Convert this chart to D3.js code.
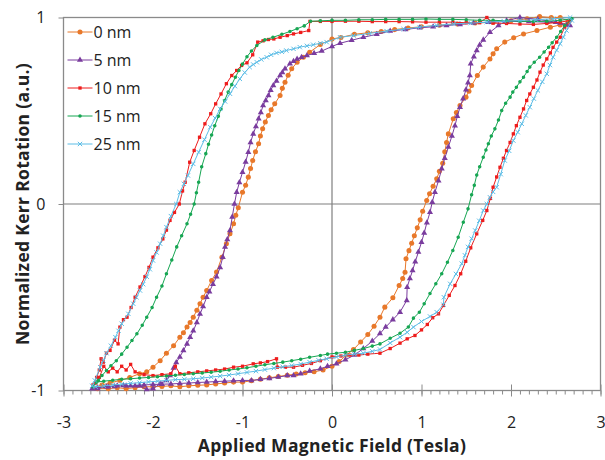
<!DOCTYPE html>
<html>
<head>
<meta charset="utf-8">
<script src="https://cdn.jsdelivr.net/npm/d3@7"></script>
<style>
  body { margin: 0; background: #fff; }
  text { font-family: "Open Sans", Lato, sans-serif; fill: #222; }
</style>
</head>
<body>
<div id="chart"></div>
<script>
// loops read off the picture, in measurement order:
// descending branch from +H down to -H, then ascending branch back up
var loop0 = [[2.64,0.98],[2.55,1.0],[2.45,1.0],[2.32,1.005],[2.18,0.993],[2.0,0.982],[1.8,0.975],[1.6,0.97],[1.4,0.965],[1.2,0.958],[1.0,0.95],[0.85,0.944],[0.7,0.935],[0.55,0.925],[0.4,0.918],[0.25,0.91],[0.1,0.893],[0.0,0.885],[-0.13,0.855],[-0.25,0.814],[-0.32,0.787],[-0.39,0.76],[-0.45,0.725],[-0.49,0.69],[-0.525,0.653],[-0.555,0.62],[-0.58,0.582],[-0.64,0.537],[-0.68,0.505],[-0.71,0.475],[-0.745,0.44],[-0.775,0.403],[-0.8,0.365],[-0.82,0.323],[-0.855,0.28],[-0.886,0.233],[-0.91,0.19],[-0.935,0.144],[-0.965,0.1],[-1.0,0.063],[-1.047,-0.02],[-1.075,-0.06],[-1.1,-0.106],[-1.14,-0.16],[-1.18,-0.213],[-1.23,-0.285],[-1.29,-0.365],[-1.345,-0.41],[-1.4,-0.464],[-1.44,-0.5],[-1.475,-0.535],[-1.51,-0.57],[-1.55,-0.607],[-1.585,-0.635],[-1.62,-0.66],[-1.66,-0.69],[-1.7,-0.714],[-1.77,-0.76],[-1.85,-0.8],[-1.92,-0.84],[-2.0,-0.875],[-2.07,-0.9],[-2.15,-0.91],[-2.26,-0.93],[-2.37,-0.946],[-2.48,-0.96],[-2.57,-0.97],[-2.66,-0.985],
  [-2.62,-0.99],[-2.5,-0.99],[-2.4,-0.985],[-2.3,-0.99],[-2.2,-0.985],[-2.1,-0.98],[-2.0,-0.98],[-1.9,-0.978],[-1.8,-0.975],[-1.7,-0.98],[-1.6,-0.975],[-1.5,-0.972],[-1.4,-0.97],[-1.3,-0.965],[-1.2,-0.96],[-1.1,-0.955],[-1.0,-0.955],[-0.9,-0.948],[-0.8,-0.94],[-0.7,-0.932],[-0.6,-0.925],[-0.5,-0.918],[-0.4,-0.912],[-0.3,-0.905],[-0.2,-0.9],[-0.1,-0.89],[0.0,-0.87],[0.08,-0.845],[0.16,-0.81],[0.24,-0.78],[0.32,-0.74],[0.4,-0.7],[0.47,-0.655],[0.536,-0.607],[0.59,-0.553],[0.68,-0.503],[0.75,-0.437],[0.79,-0.4],[0.816,-0.366],[0.827,-0.294],[0.86,-0.25],[0.89,-0.21],[0.92,-0.17],[0.953,-0.128],[0.985,-0.085],[1.013,-0.039],[1.058,0.019],[1.09,0.055],[1.13,0.095],[1.17,0.135],[1.2,0.175],[1.237,0.219],[1.26,0.28],[1.28,0.33],[1.3,0.376],[1.355,0.457],[1.39,0.49],[1.43,0.528],[1.497,0.573],[1.53,0.605],[1.56,0.635],[1.624,0.689],[1.69,0.734],[1.765,0.778],[1.8,0.805],[1.84,0.832],[1.93,0.868],[2.03,0.891],[2.14,0.912],[2.29,0.93],[2.44,0.948],[2.55,0.96],[2.64,0.975]];

var loop5 = [[2.66,0.957],[2.55,0.97],[2.4,0.975],[2.2,0.978],[1.95,0.979],[1.75,0.975],[1.58,0.97],[1.43,0.963],[1.28,0.957],[1.13,0.95],[0.98,0.945],[0.82,0.936],[0.65,0.927],[0.5,0.91],[0.35,0.894],[0.22,0.878],[0.09,0.862],[0.0,0.845],[-0.115,0.82],[-0.2,0.808],[-0.28,0.796],[-0.34,0.787],[-0.39,0.778],[-0.43,0.765],[-0.47,0.752],[-0.525,0.725],[-0.555,0.705],[-0.58,0.689],[-0.62,0.66],[-0.656,0.635],[-0.685,0.61],[-0.71,0.582],[-0.74,0.555],[-0.77,0.528],[-0.795,0.49],[-0.82,0.457],[-0.85,0.415],[-0.88,0.376],[-0.91,0.33],[-0.935,0.278],[-0.965,0.225],[-1.0,0.17],[-1.035,0.115],[-1.065,0.063],[-1.09,0.0],[-1.115,-0.07],[-1.14,-0.142],[-1.17,-0.19],[-1.195,-0.23],[-1.22,-0.285],[-1.25,-0.34],[-1.29,-0.39],[-1.33,-0.43],[-1.37,-0.47],[-1.4,-0.5],[-1.44,-0.55],[-1.475,-0.59],[-1.51,-0.635],[-1.55,-0.68],[-1.585,-0.715],[-1.62,-0.75],[-1.66,-0.785],[-1.7,-0.82],[-1.74,-0.85],[-1.77,-0.88],[-1.81,-0.92],[-1.85,-0.946],[-1.92,-0.964],[-2.0,-0.99],[-2.07,-0.995],[-2.15,-0.975],[-2.25,-0.975],[-2.33,-0.973],[-2.43,-0.978],[-2.52,-0.98],[-2.62,-0.99],[-2.68,-0.99],
  [-2.62,-0.985],[-2.5,-0.98],[-2.4,-0.975],[-2.3,-0.975],[-2.2,-0.975],[-2.1,-0.97],[-2.0,-0.968],[-1.9,-0.966],[-1.8,-0.965],[-1.7,-0.962],[-1.6,-0.96],[-1.5,-0.957],[-1.4,-0.955],[-1.3,-0.952],[-1.2,-0.95],[-1.1,-0.948],[-1.0,-0.946],[-0.9,-0.946],[-0.8,-0.94],[-0.7,-0.935],[-0.6,-0.928],[-0.5,-0.92],[-0.43,-0.92],[-0.35,-0.91],[-0.25,-0.895],[-0.13,-0.884],[-0.05,-0.87],[0.05,-0.857],[0.15,-0.835],[0.25,-0.81],[0.35,-0.775],[0.45,-0.735],[0.536,-0.695],[0.6,-0.66],[0.68,-0.62],[0.76,-0.58],[0.835,-0.517],[0.84,-0.446],[0.87,-0.4],[0.9,-0.357],[0.93,-0.31],[0.965,-0.258],[1.0,-0.205],[1.03,-0.156],[1.06,-0.1],[1.095,-0.044],[1.12,0.01],[1.15,0.063],[1.19,0.125],[1.226,0.189],[1.26,0.245],[1.3,0.305],[1.34,0.365],[1.374,0.42],[1.4,0.47],[1.43,0.519],[1.465,0.565],[1.497,0.612],[1.52,0.65],[1.54,0.689],[1.55,0.752],[1.585,0.79],[1.617,0.823],[1.65,0.853],[1.69,0.88],[1.765,0.921],[1.86,0.957],[1.95,0.984],[2.1,1.0],[2.3,0.99],[2.5,0.975],[2.62,0.96]];

var loop10 = [[2.66,0.984],[2.55,0.975],[2.4,0.968],[2.25,0.963],[2.1,0.965],[1.95,0.968],[1.8,0.97],[1.73,1.0],[1.65,0.972],[1.5,0.972],[1.35,0.975],[1.2,0.975],[1.05,0.975],[0.9,0.977],[0.75,0.978],[0.6,0.978],[0.45,0.978],[0.3,0.98],[0.15,0.98],[0.0,0.979],[-0.13,0.979],[-0.246,0.979],[-0.26,0.93],[-0.35,0.92],[-0.43,0.912],[-0.5,0.903],[-0.58,0.894],[-0.65,0.885],[-0.71,0.882],[-0.77,0.875],[-0.83,0.868],[-0.886,0.8],[-0.95,0.757],[-1.01,0.743],[-1.065,0.716],[-1.12,0.689],[-1.18,0.645],[-1.24,0.59],[-1.3,0.537],[-1.355,0.484],[-1.42,0.43],[-1.48,0.358],[-1.54,0.287],[-1.59,0.224],[-1.64,0.117],[-1.67,0.07],[-1.706,0.0],[-1.76,-0.045],[-1.81,-0.088],[-1.85,-0.14],[-1.89,-0.187],[-1.945,-0.235],[-2.0,-0.285],[-2.045,-0.34],[-2.09,-0.39],[-2.145,-0.445],[-2.2,-0.5],[-2.245,-0.555],[-2.29,-0.607],[-2.33,-0.62],[-2.37,-0.66],[-2.39,-0.75],[-2.43,-0.73],[-2.48,-0.785],[-2.52,-0.8],[-2.555,-0.848],[-2.58,-0.83],[-2.6,-0.89],[-2.63,-0.93],[-2.67,-0.97],
  [-2.64,-0.96],[-2.6,-0.93],[-2.55,-0.87],[-2.5,-0.9],[-2.45,-0.88],[-2.4,-0.9],[-2.35,-0.87],[-2.3,-0.89],[-2.25,-0.86],[-2.2,-0.9],[-2.1,-0.915],[-2.0,-0.92],[-1.9,-0.915],[-1.8,-0.91],[-1.75,-0.87],[-1.7,-0.91],[-1.6,-0.905],[-1.5,-0.9],[-1.4,-0.895],[-1.3,-0.89],[-1.2,-0.885],[-1.1,-0.875],[-1.0,-0.87],[-0.88,-0.857],[-0.8,-0.852],[-0.72,-0.845],[-0.62,-0.83],[-0.61,-0.875],[-0.52,-0.875],[-0.43,-0.875],[-0.33,-0.865],[-0.23,-0.855],[-0.13,-0.84],[0.0,-0.82],[0.1,-0.815],[0.2,-0.81],[0.3,-0.81],[0.4,-0.805],[0.536,-0.8],[0.65,-0.775],[0.76,-0.746],[0.84,-0.723],[0.927,-0.705],[1.0,-0.675],[1.065,-0.646],[1.125,-0.61],[1.19,-0.589],[1.245,-0.544],[1.31,-0.49],[1.374,-0.437],[1.438,-0.374],[1.494,-0.307],[1.55,-0.235],[1.617,-0.16],[1.684,-0.088],[1.73,-0.035],[1.77,0.03],[1.8,0.09],[1.84,0.145],[1.877,0.197],[1.915,0.245],[1.95,0.287],[1.99,0.33],[2.026,0.376],[2.06,0.42],[2.1,0.465],[2.14,0.51],[2.175,0.555],[2.21,0.59],[2.25,0.626],[2.29,0.665],[2.324,0.707],[2.36,0.745],[2.4,0.778],[2.44,0.81],[2.47,0.84],[2.51,0.868],[2.55,0.894],[2.6,0.948],[2.66,0.984]];

var loop15 = [[2.68,0.993],[2.55,0.985],[2.4,0.98],[2.25,0.978],[2.1,0.98],[1.95,0.982],[1.8,0.985],[1.65,0.985],[1.5,0.988],[1.35,0.99],[1.2,0.99],[1.05,0.992],[0.9,0.99],[0.75,0.99],[0.6,0.99],[0.45,0.988],[0.3,0.988],[0.15,0.985],[0.0,0.985],[-0.13,0.982],[-0.24,0.98],[-0.31,0.955],[-0.39,0.94],[-0.47,0.925],[-0.56,0.91],[-0.66,0.894],[-0.75,0.88],[-0.84,0.85],[-0.9,0.82],[-0.95,0.79],[-1.0,0.75],[-1.04,0.716],[-1.08,0.68],[-1.12,0.64],[-1.16,0.6],[-1.2,0.555],[-1.24,0.51],[-1.27,0.47],[-1.31,0.42],[-1.345,0.37],[-1.38,0.32],[-1.41,0.27],[-1.456,0.2],[-1.49,0.117],[-1.515,0.06],[-1.54,0.0],[-1.58,-0.055],[-1.62,-0.106],[-1.68,-0.17],[-1.735,-0.23],[-1.79,-0.3],[-1.85,-0.374],[-1.9,-0.44],[-1.96,-0.5],[-2.01,-0.555],[-2.07,-0.607],[-2.12,-0.65],[-2.18,-0.696],[-2.235,-0.732],[-2.29,-0.768],[-2.35,-0.805],[-2.41,-0.84],[-2.47,-0.867],[-2.52,-0.893],[-2.57,-0.92],[-2.61,-0.946],[-2.67,-0.98],
  [-2.63,-0.955],[-2.55,-0.95],[-2.45,-0.945],[-2.35,-0.94],[-2.25,-0.937],[-2.15,-0.933],[-2.05,-0.93],[-1.95,-0.926],[-1.85,-0.922],[-1.75,-0.918],[-1.65,-0.914],[-1.55,-0.91],[-1.45,-0.906],[-1.35,-0.902],[-1.25,-0.897],[-1.15,-0.89],[-1.05,-0.885],[-0.95,-0.878],[-0.85,-0.87],[-0.75,-0.862],[-0.65,-0.855],[-0.55,-0.848],[-0.45,-0.84],[-0.35,-0.832],[-0.25,-0.822],[-0.13,-0.812],[-0.05,-0.805],[0.05,-0.8],[0.15,-0.795],[0.25,-0.785],[0.35,-0.775],[0.45,-0.762],[0.536,-0.75],[0.65,-0.72],[0.76,-0.693],[0.853,-0.66],[0.91,-0.612],[0.976,-0.58],[1.03,-0.535],[1.095,-0.48],[1.16,-0.428],[1.226,-0.374],[1.29,-0.312],[1.35,-0.249],[1.41,-0.178],[1.467,-0.098],[1.52,-0.026],[1.56,0.05],[1.59,0.1],[1.617,0.155],[1.65,0.2],[1.69,0.251],[1.72,0.29],[1.747,0.323],[1.78,0.365],[1.82,0.403],[1.86,0.45],[1.896,0.501],[1.94,0.54],[1.99,0.573],[2.02,0.6],[2.06,0.626],[2.1,0.655],[2.14,0.68],[2.18,0.71],[2.21,0.734],[2.26,0.76],[2.32,0.787],[2.37,0.815],[2.42,0.84],[2.46,0.865],[2.51,0.894],[2.555,0.925],[2.6,0.957],[2.68,0.993]];

var loop25 = [[2.66,1.0],[2.47,0.993],[2.28,0.988],[2.1,0.984],[1.92,0.98],[1.73,0.975],[1.55,0.97],[1.36,0.966],[1.17,0.958],[0.98,0.948],[0.8,0.938],[0.61,0.927],[0.42,0.915],[0.24,0.903],[0.09,0.894],[-0.06,0.868],[-0.13,0.862],[-0.21,0.854],[-0.28,0.848],[-0.36,0.841],[-0.43,0.832],[-0.51,0.823],[-0.56,0.816],[-0.62,0.81],[-0.68,0.8],[-0.73,0.787],[-0.79,0.775],[-0.84,0.76],[-0.88,0.748],[-0.92,0.734],[-0.975,0.705],[-1.03,0.671],[-1.085,0.632],[-1.14,0.591],[-1.195,0.55],[-1.25,0.51],[-1.305,0.46],[-1.36,0.412],[-1.425,0.345],[-1.49,0.278],[-1.55,0.215],[-1.61,0.153],[-1.655,0.108],[-1.7,0.063],[-1.74,0.0],[-1.8,-0.065],[-1.85,-0.124],[-1.885,-0.17],[-1.92,-0.213],[-1.96,-0.26],[-2.0,-0.303],[-2.035,-0.35],[-2.07,-0.39],[-2.11,-0.43],[-2.145,-0.464],[-2.185,-0.5],[-2.22,-0.535],[-2.275,-0.589],[-2.35,-0.642],[-2.385,-0.68],[-2.42,-0.714],[-2.47,-0.76],[-2.52,-0.8],[-2.555,-0.84],[-2.59,-0.875],[-2.65,-0.946],[-2.68,-0.975],
  [-2.64,-0.98],[-2.55,-0.975],[-2.45,-0.97],[-2.35,-0.966],[-2.25,-0.962],[-2.15,-0.958],[-2.05,-0.954],[-1.95,-0.95],[-1.85,-0.946],[-1.75,-0.942],[-1.65,-0.94],[-1.55,-0.937],[-1.45,-0.933],[-1.35,-0.928],[-1.25,-0.923],[-1.15,-0.917],[-1.05,-0.91],[-0.95,-0.903],[-0.85,-0.896],[-0.75,-0.888],[-0.65,-0.88],[-0.55,-0.873],[-0.45,-0.866],[-0.35,-0.858],[-0.25,-0.848],[-0.15,-0.838],[-0.06,-0.83],[0.05,-0.82],[0.15,-0.81],[0.25,-0.805],[0.35,-0.8],[0.45,-0.79],[0.536,-0.78],[0.65,-0.745],[0.76,-0.714],[0.84,-0.688],[0.91,-0.66],[1.0,-0.63],[1.095,-0.603],[1.17,-0.58],[1.245,-0.54],[1.25,-0.5],[1.32,-0.428],[1.385,-0.375],[1.45,-0.32],[1.485,-0.275],[1.52,-0.23],[1.56,-0.186],[1.6,-0.142],[1.645,-0.09],[1.69,-0.035],[1.73,0.0],[1.765,0.036],[1.8,0.065],[1.84,0.09],[1.885,0.16],[1.93,0.233],[1.98,0.285],[2.026,0.34],[2.075,0.385],[2.12,0.43],[2.165,0.475],[2.21,0.519],[2.255,0.565],[2.3,0.609],[2.35,0.655],[2.4,0.698],[2.435,0.745],[2.47,0.787],[2.51,0.825],[2.55,0.859],[2.585,0.895],[2.62,0.93],[2.68,0.984]];

var seriesNames = ["0 nm", "5 nm", "10 nm", "15 nm", "25 nm"];
var seriesLoops = [loop0, loop5, loop10, loop15, loop25];
var seriesColors = ["#e8782a", "#7a3c9e", "#ee1c1c", "#17a653", "#5cbde6"];

var xTicks = [-3, -2, -1, 0, 1, 2, 3];
var yTicks = [-1, 0, 1];

// set the dimensions and margins of the graph
var margin = {top: 17.5, right: 4.5, bottom: 69.5, left: 63.5},
    width = 605 - margin.left - margin.right,
    height = 460 - margin.top - margin.bottom;

var x = d3.scaleLinear().domain([-3, 3]).range([0, width]);
var y = d3.scaleLinear().domain([-1, 1]).range([height, 0]);

var svg = d3.select("#chart").append("svg")
    .attr("width", 605)
    .attr("height", 460)
  .append("g")
    .attr("transform", "translate(" + margin.left + "," + margin.top + ")");

// frame
svg.append("rect")
    .attr("width", width).attr("height", height)
    .attr("fill", "none").attr("stroke", "#8a8a8a").attr("stroke-width", 1.3);

// zero lines
svg.append("line")
    .attr("x1", x(0)).attr("x2", x(0)).attr("y1", 0).attr("y2", height)
    .attr("stroke", "#7f7f7f").attr("stroke-width", 1.2);
svg.append("line")
    .attr("x1", 0).attr("x2", width).attr("y1", y(0)).attr("y2", y(0))
    .attr("stroke", "#7f7f7f").attr("stroke-width", 1.2);

// minor x ticks every 0.1 T
svg.append("g")
    .attr("transform", "translate(0," + height + ")")
    .call(d3.axisBottom(x).tickValues(d3.range(-30, 31).map(function(d) { return d / 10; }))
      .tickSize(4).tickFormat(""))
    .call(function(g) { g.select(".domain").remove(); g.selectAll("line").attr("stroke", "#8a8a8a"); });

// major x ticks, crossing the axis
var xAxis = svg.append("g")
    .attr("transform", "translate(0," + height + ")")
    .call(d3.axisBottom(x).tickValues(xTicks).tickSize(6).tickPadding(20)
      .tickFormat(function(d) { return String(d); }));
xAxis.select(".domain").remove();
xAxis.selectAll("line").attr("y1", -6).attr("stroke", "#8a8a8a");
xAxis.selectAll("text").style("font-size", "16px").attr("fill", "#222");

var yAxis = svg.append("g")
    .call(d3.axisLeft(y).tickValues(yTicks).tickSize(5).tickPadding(13)
      .tickFormat(function(d) { return String(d); }));
yAxis.select(".domain").remove();
yAxis.selectAll("line").attr("stroke", "#8a8a8a");
yAxis.selectAll("text").style("font-size", "16px").attr("fill", "#222");

// axis titles
svg.append("text")
    .attr("x", width / 2).attr("y", height + 61)
    .attr("text-anchor", "middle")
    .style("font-size", "17.5px").style("font-weight", "bold").style("letter-spacing", "0.3px")
    .text("Applied Magnetic Field (Tesla)");
svg.append("text")
    .attr("transform", "translate(" + (-35) + "," + (height / 2) + ") rotate(-90)")
    .attr("text-anchor", "middle")
    .style("font-size", "17.5px").style("font-weight", "bold").style("letter-spacing", "0.3px")
    .text("Normalized Kerr Rotation (a.u.)");

// marker for each series
var symTimes = d3.symbolTimes || d3.symbolCross;
var markerTypes = [d3.symbolCircle, d3.symbolTriangle, d3.symbolSquare, d3.symbolCircle, symTimes];
var markerSizes = [20, 16, 11, 10, 14];
function drawMarker(sel, i) {
  var p = sel.append("path")
      .attr("d", d3.symbol().type(markerTypes[i]).size(markerSizes[i]));
  if (i === 4) {
    p.attr("fill", "none").attr("stroke", seriesColors[i]).attr("stroke-width", 1);
    if (!d3.symbolTimes) p.attr("transform", "rotate(45)");
  } else {
    p.attr("fill", seriesColors[i]);
  }
}

var line = d3.line()
    .x(function(d) { return x(d[0]); })
    .y(function(d) { return y(d[1]); });

seriesLoops.forEach(function(loop, i) {
  var g = svg.append("g");
  g.append("path")
      .datum(loop)
      .attr("fill", "none")
      .attr("stroke", seriesColors[i])
      .attr("stroke-width", 1)
      .attr("d", line);
  g.selectAll(".pt")
      .data(loop)
    .enter().append("g")
      .attr("transform", function(d) { return "translate(" + x(d[0]) + "," + y(d[1]) + ")"; })
      .each(function() { drawMarker(d3.select(this), i); });
});

// legend
var legend = svg.append("g").attr("transform", "translate(4,14.5)");
seriesNames.forEach(function(name, i) {
  var row = legend.append("g").attr("transform", "translate(0," + (i * 28) + ")");
  row.append("line").attr("x1", 0).attr("x2", 25)
      .attr("stroke", seriesColors[i]).attr("stroke-width", 1);
  drawMarker(row.append("g").attr("transform", "translate(12.5,0)"), i);
  row.append("text").attr("x", 26).attr("dy", "0.36em")
      .style("font-size", "16px").text(name);
});
</script>
</body>
</html>
